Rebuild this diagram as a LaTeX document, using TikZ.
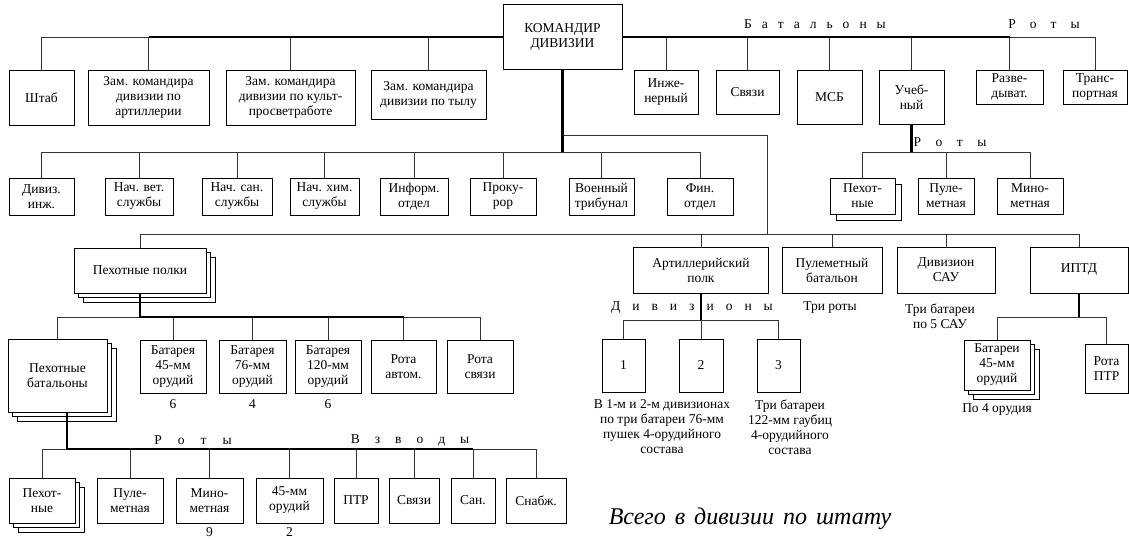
\documentclass[tikz,border=0pt]{standalone}
\usepackage{fontspec}
\setmainfont{Liberation Serif}
\usepackage{tikz}
\usetikzlibrary{positioning, shadows}
\newcommand{\boxfont}{\fontsize{13.5}{15}\selectfont}
\newcommand{\bigfont}{\fontsize{24}{27}\selectfont}

\begin{document}
\begin{tikzpicture}[x=1pt, y=-1pt,
  box/.style={draw, line width=0.9pt, fill=white, align=center, inner sep=1pt, font=\boxfont},
  link/.style={draw=black!80, line width=0.9pt},
  trunk/.style={line width=2.4pt},
  note/.style={align=center, inner sep=1pt, font=\boxfont},
  spaced/.style={inner sep=1pt, font=\boxfont, execute at begin node={\spaceskip=#1\relax}},
  stack2/.style={copy shadow={shadow xshift=6pt, shadow yshift=-6pt}},
  stack3/.style={double copy shadow={shadow xshift=4.5pt, shadow yshift=-4.5pt}}]
  \useasboundingbox (0,0) rectangle (1129,539);

  % top level
  \node[box, minimum width=119, minimum height=65] (kom) at (562.5,37) {КОМАНДИР\\ДИВИЗИИ};
  \node[box, minimum width=65, minimum height=55] (shtab) at (41.5,97.5) {Штаб};
  \node[box, minimum width=121, minimum height=55] (zart) at (148.5,97.5) {Зам. командира\\дивизии по\\артиллерии};
  \node[box, minimum width=129, minimum height=55] (zkult) at (290.5,97.5) {Зам. командира\\дивизии по культ-\\просветработе};
  \node[box, minimum width=115, minimum height=49] (ztyl) at (428.5,94.5) {Зам. командира\\дивизии по тылу};
  \node[box, minimum width=64, minimum height=44] (inzh) at (666,92) {Инже-\\нерный};
  \node[box, minimum width=63, minimum height=44] (svz) at (747.5,92) {Связи};
  \node[box, minimum width=65, minimum height=54] (msb) at (829.5,97) {МСБ};
  \node[box, minimum width=65, minimum height=54] (ucheb) at (911.5,97) {Учеб-\\ный};
  \node[box, minimum width=67, minimum height=34, inner sep=0pt] (razv) at (1009.5,87) {Разве-\\дыват.};
  \node[box, minimum width=64, minimum height=34, inner sep=0pt] (transp) at (1095,87) {Транс-\\портная};
  \node[spaced=10pt] (lbat) at (815,24) {Б а т а л ь о н ы};
  \node[spaced=14pt] (lrot1) at (1044,24) {Р о т ы};

  % second row
  \node[box, minimum width=65, minimum height=37] (divinzh) at (41.5,196.5) {Дивиз.\\инж.};
  \node[box, minimum width=68, minimum height=37] (vet) at (139,196.5) {Нач. вет.\\службы};
  \node[box, minimum width=70, minimum height=37] (san) at (237,196.5) {Нач. сан.\\службы};
  \node[box, minimum width=69, minimum height=37] (him) at (324.5,196.5) {Нач. хим.\\службы};
  \node[box, minimum width=68, minimum height=37] (inform) at (414,196.5) {Информ.\\отдел};
  \node[box, minimum width=66, minimum height=37] (prok) at (503,196.5) {Проку-\\рор};
  \node[box, minimum width=65, minimum height=37] (trib) at (601.5,196.5) {Военный\\трибунал};
  \node[box, minimum width=66, minimum height=37] (fin) at (700,196.5) {Фин.\\отдел};

  % companies of the training battalion
  \node[box, stack2, minimum width=65, minimum height=36] (upeh) at (862.5,196) {Пехот-\\ные};
  \node[box, minimum width=56, minimum height=36] (upul) at (946,196) {Пуле-\\метная};
  \node[box, minimum width=66, minimum height=36] (umin) at (1030,196) {Мино-\\метная};
  \node[spaced=14.5pt] (lrot2) at (950,142) {Р о т ы};

  % third row
  \node[box, stack3, minimum width=132, minimum height=45] (polki) at (140,270.5) {Пехотные полки};
  \node[box, minimum width=135, minimum height=46] (art) at (701,270) {Артиллерийский\\полк};
  \node[box, minimum width=100, minimum height=46] (pulbat) at (832,270) {Пулеметный\\батальон};
  \node[box, minimum width=98, minimum height=46] (sau) at (946,270) {Дивизион\\САУ};
  \node[box, minimum width=98, minimum height=46] (iptd) at (1079,270) {ИПТД};
  \node[note] (troty) at (830,308) {Три роты};
  \node[note] (tsau) at (940,316) {Три батареи\\по 5 САУ};

  % artillery
  \node[spaced=12pt] (ldiv) at (692,308) {Д и в и з и о н ы};
  \node[box, minimum width=43, minimum height=53] (div1) at (623.5,365.5) {1};
  \node[box, minimum width=44, minimum height=53] (div2) at (701,365.5) {2};
  \node[box, minimum width=43, minimum height=53] (div3) at (778.5,365.5) {3};
  \node[note] (tdiv12) at (662,427) {В 1-м и 2-м дивизионах\\по три батареи 76-мм\\пушек 4-орудийного\\состава};
  \node[note] (tdiv3) at (790,427) {Три батареи\\122-мм гаубиц\\4-орудийного\\состава};

  % anti-tank
  \node[box, stack3, minimum width=66, minimum height=50] (batar) at (997,365) {Батареи\\45-мм\\орудий};
  \node[box, minimum width=43, minimum height=49] (ptr) at (1106.5,368.5) {Рота\\ПТР};
  \node[note, below=12pt of batar] (tpo4) {По 4 орудия};

  % infantry regiment
  \node[box, stack3, minimum width=99, minimum height=73] (batal) at (57.5,375.5) {Пехотные\\батальоны};
  \node[box, minimum width=66, minimum height=53] (bat45) at (173,366.5) {Батарея\\45-мм\\орудий};
  \node[box, minimum width=67, minimum height=53] (bat76) at (252.5,366.5) {Батарея\\76-мм\\орудий};
  \node[box, minimum width=66, minimum height=53] (bat120) at (328,366.5) {Батарея\\120-мм\\орудий};
  \node[box, minimum width=65, minimum height=53] (ravt) at (403.5,366.5) {Рота\\автом.};
  \node[box, minimum width=66, minimum height=53] (rsv) at (480,366.5) {Рота\\связи};
  \node[note, below=5pt of bat45] (n45) {6};
  \node[note, below=5pt of bat76] (n76) {4};
  \node[note, below=5pt of bat120] (n120) {6};

  % infantry battalion
  \node[spaced=16pt] (lrot3) at (193,440) {Р о т ы};
  \node[spaced=15pt] (lvzv) at (410,440) {В з в о д ы};
  \node[box, stack3, minimum width=66, minimum height=45] (rpeh) at (42,500.5) {Пехот-\\ные};
  \node[box, minimum width=66, minimum height=45] (rpul) at (130,500.5) {Пуле-\\метная};
  \node[box, minimum width=67, minimum height=45] (rmin) at (209.5,500.5) {Мино-\\метная};
  \node[box, minimum width=67, minimum height=45] (r45) at (289.5,500.5) {45-мм\\орудий};
  \node[box, minimum width=44, minimum height=45] (vptr) at (356,500.5) {ПТР};
  \node[box, minimum width=50, minimum height=45] (vsv) at (414,500.5) {Связи};
  \node[box, minimum width=44, minimum height=45] (vsan) at (473,500.5) {Сан.};
  \node[box, minimum width=60, minimum height=45] (vsnab) at (536,500.5) {Снабж.};
  \node[note, below=2.5pt of rmin] (nmin) {9};
  \node[note, below=2.5pt of r45] (n45b) {2};

  \node[font=\bigfont\itshape, execute at begin node={\spaceskip=9pt\relax}] (total) at (750,519) {Всего в дивизии по штату};

  % junctions
  \coordinate (b2) at (562.5,152);
  \coordinate (j3) at (562.5,135);
  \coordinate (b3) at (767,234);
  \coordinate (bu) at (911.5,152);
  \coordinate (ba) at (701,320);
  \coordinate (bi) at (1079,317);
  \coordinate (bp) at (140,317);
  \coordinate (bb) at (67,449);

  % connectors
  \draw[link] (kom.west) -| (shtab.north);
  \draw[link] (kom.west) -| (zart.north);
  \draw[link] (kom.west) -| (zkult.north);
  \draw[link] (kom.west) -| (ztyl.north);
  \draw[link] (kom.east) -| (inzh.north);
  \draw[link] (kom.east) -| (svz.north);
  \draw[link] (kom.east) -| (msb.north);
  \draw[link] (kom.east) -| (ucheb.north);
  \draw[link] (kom.east) -| (razv.north);
  \draw[link] (kom.east) -| (transp.north);
  \draw[trunk] (kom.west) -- (kom.west -| zart.north);
  \draw[trunk] (kom.east) -- (kom.east -| razv.north);

  \draw[link] (b2) -| (divinzh.north);
  \draw[link] (b2) -| (vet.north);
  \draw[link] (b2) -| (san.north);
  \draw[link] (b2) -| (him.north);
  \draw[link] (b2) -| (inform.north);
  \draw[link] (b2) -| (prok.north);
  \draw[link] (b2) -| (trib.north);
  \draw[link] (b2) -| (fin.north);
  \draw[trunk] (kom.south) -- (b2);

  \draw[link] (bu) -| (upeh.north);
  \draw[link] (bu) -| (upul.north);
  \draw[link] (bu) -| (umin.north);
  \draw[trunk] (ucheb.south) -- (bu);

  \draw[link] (j3) -| (b3);
  \draw[link] (b3) -| (polki.north);
  \draw[link] (b3) -| (art.north);
  \draw[link] (b3) -| (pulbat.north);
  \draw[link] (b3) -| (sau.north);
  \draw[link] (b3) -| (iptd.north);

  \draw[link] (ba) -| (div1.north);
  \draw[link] (ba) -- (div2.north);
  \draw[link] (ba) -| (div3.north);
  \draw[trunk] (art.south) -- (ba);

  \draw[link] (bi) -| (batar.north);
  \draw[link] (bi) -| (ptr.north);
  \draw[trunk] (iptd.south) -- (bi);

  \draw[link] (bp) -| (batal.north);
  \draw[link] (bp) -| (bat45.north);
  \draw[link] (bp) -| (bat76.north);
  \draw[link] (bp) -| (bat120.north);
  \draw[link] (bp) -| (ravt.north);
  \draw[link] (bp) -| (rsv.north);
  \draw[trunk] (polki.south) -- (bp) -- (bp -| ravt.north);

  \draw[link] (bb) -| (rpeh.north);
  \draw[link] (bb) -| (rpul.north);
  \draw[link] (bb) -| (rmin.north);
  \draw[link] (bb) -| (r45.north);
  \draw[link] (bb) -| (vptr.north);
  \draw[link] (bb) -| (vsv.north);
  \draw[link] (bb) -| (vsan.north);
  \draw[link] (bb) -| (vsnab.north);
  \draw[trunk] (bb |- batal.south) -- (bb) -- (bb -| vsan.north);
\end{tikzpicture}
\end{document}
